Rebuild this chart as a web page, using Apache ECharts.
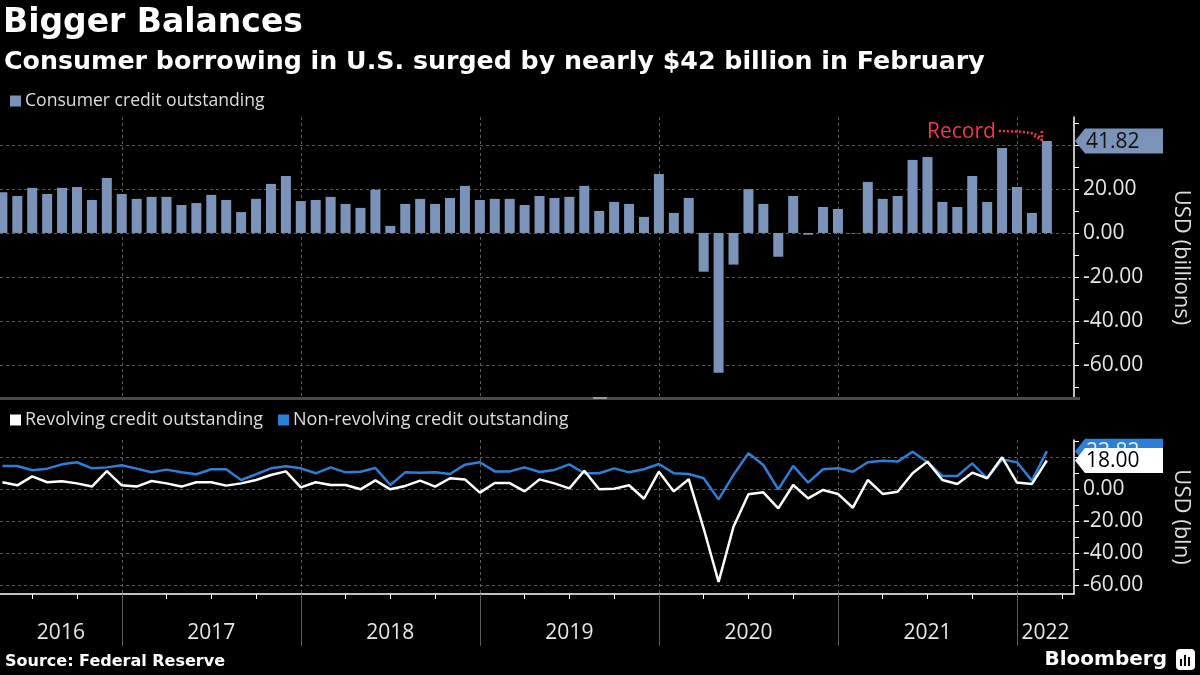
<!DOCTYPE html>
<html><head><meta charset="utf-8">
<script src="https://cdn.jsdelivr.net/npm/echarts@6/dist/echarts.min.js"></script>
<style>html,body{margin:0;padding:0;background:#000}#c{width:1200px;height:675px}</style>
</head><body><div id="c"></div>
<script>
// ---------------- DATA ----------------
const months = [
 '2016-04','2016-05','2016-06','2016-07','2016-08','2016-09','2016-10','2016-11','2016-12',
 '2017-01','2017-02','2017-03','2017-04','2017-05','2017-06','2017-07','2017-08','2017-09','2017-10','2017-11','2017-12',
 '2018-01','2018-02','2018-03','2018-04','2018-05','2018-06','2018-07','2018-08','2018-09','2018-10','2018-11','2018-12',
 '2019-01','2019-02','2019-03','2019-04','2019-05','2019-06','2019-07','2019-08','2019-09','2019-10','2019-11','2019-12',
 '2020-01','2020-02','2020-03','2020-04','2020-05','2020-06','2020-07','2020-08','2020-09','2020-10','2020-11','2020-12',
 '2021-01','2021-02','2021-03','2021-04','2021-05','2021-06','2021-07','2021-08','2021-09','2021-10','2021-11','2021-12',
 '2022-01','2022-02'
];
// Consumer credit outstanding, monthly change (USD bn)
const consumerCredit = [
 18.5, 16.8, 20.5, 17.7, 20.5, 20.9, 15.0, 25.0, 17.7, 15.5,
 16.4, 16.4, 12.7, 13.6, 17.3, 15.0, 9.5, 15.5, 22.3, 25.9,
 14.5, 15.0, 16.4, 13.2, 11.4, 19.7, 3.2, 13.2, 15.5, 13.2,
 15.9, 21.4, 15.0, 15.5, 15.5, 12.7, 16.8, 15.9, 16.4, 21.4,
 10.0, 14.1, 13.2, 7.3, 26.8, 9.1, 15.9, -17.6, -63.5, -14.4,
 19.9, 13.2, -10.8, 16.8, -0.8, 11.8, 10.9, -0.2, 23.2, 15.5,
 16.8, 33.2, 34.5, 14.1, 11.8, 25.9, 14.1, 38.6, 20.9, 9.1,
 41.82
];
const revolving = [
 4.4, 2.5, 8.1, 4.4, 5.0, 3.7, 1.7, 11.4, 2.5, 1.7,
 5.2, 3.7, 1.7, 4.4, 4.4, 2.3, 3.7, 5.8, 8.9, 11.2,
 1.2, 4.4, 2.7, 2.7, 0.0, 5.6, 0.0, 2.1, 5.4, 1.7,
 6.9, 6.2, -2.1, 3.9, 3.9, -1.3, 6.2, 3.7, 0.6, 11.6,
 0.0, 0.4, 2.5, -5.9, 11.0, -1.3, 6.3, -24.5, -57.8, -23.4,
 -3.1, -1.9, -11.9, 2.7, -5.7, -0.4, -2.9, -11.5, 5.8, -2.9,
 -1.5, 10.0, 17.3, 5.8, 3.3, 10.4, 6.9, 20.0, 4.2, 3.3,
 18.00
];
const nonRevolving = [
 14.6, 14.6, 11.9, 12.9, 15.6, 16.9, 13.1, 13.7, 15.0, 12.9,
 10.6, 12.3, 10.6, 9.4, 12.5, 12.5, 5.8, 9.4, 13.1, 14.4,
 13.1, 10.0, 13.7, 10.6, 11.0, 13.3, 2.7, 10.6, 10.4, 10.6,
 9.6, 15.4, 16.9, 11.2, 11.2, 13.7, 10.8, 12.1, 15.6, 10.0,
 10.0, 13.1, 10.6, 12.5, 15.8, 10.0, 9.6, 6.9, -6.3, 9.0,
 22.5, 15.2, 0.0, 14.6, 4.2, 12.5, 13.1, 11.0, 16.9, 17.9,
 17.3, 23.5, 16.9, 8.3, 8.3, 16.2, 6.9, 18.7, 16.9, 5.4,
 23.82
];
const yearLabels = ['2016','2017','2018','2019','2020','2021','2022'];
const topYLabelValues = [20, 0, -20, -40, -60];
const topYGridValues = [40, 20, 0, -20, -40, -60];
const topYTickValues = [50, 40, 30, 20, 10, 0, -10, -20, -30, -40, -50, -60, -70];
const botYLabelValues = [0, -20, -40, -60];
const botYGridValues = [20, 0, -20, -40, -60];
const botYTickValues = [30, 20, 10, 0, -10, -20, -30, -40, -50, -60];

// ---------------- LAYOUT ----------------
const X_MIN = -0.16, X_MAX = 71.82;
const FONT = '"Open Sans", "Noto Sans", sans-serif';
const BOLD = '"DejaVu Sans", sans-serif';
const BAR_COLOR = '#7b93b8';
const BLUE = '#2b7fd8';
const GRID_LINE = { color: '#5c5c5c', width: 1, type: [3, 3] };

const monthNum = i => ((4 - 1 + i) % 12) + 1; // months[0] is April
const yearEnds = months.map((m, i) => m.endsWith('-12') ? i : -1).filter(i => i >= 0);
const quarterTicks = [];
for (let i = 0; i <= Math.floor(X_MAX); i++) if (monthNum(i) % 3 === 0) quarterTicks.push(i);
const bounds = [X_MIN, ...yearEnds, X_MAX];
const yearLabelPos = yearLabels.map((y, i) => (bounds[i] + bounds[i + 1]) / 2);
const yearFormatter = v => {
  const j = yearLabelPos.findIndex(p => Math.abs(p - v) < 1e-6);
  return j >= 0 ? yearLabels[j] : '';
};
const fmt2 = v => Number(v).toFixed(2);

function tagRenderer(fill, textColor) {
  return function (params, api) {
    const p = api.coord([api.value(0), api.value(1)]);
    const x = p[0] + 1, y = p[1], w = 88, h = 25, n = 10;
    return {
      type: 'group',
      children: [
        { type: 'polygon', shape: { points: [[x, y], [x + n, y - h / 2], [x + w, y - h / 2], [x + w, y + h / 2], [x + n, y + h / 2]] }, style: { fill: fill } },
        { type: 'text', style: { text: fmt2(api.value(1)), x: x + 11, y: y + 1, verticalAlign: 'middle', fill: textColor, font: '21px ' + FONT } }
      ]
    };
  };
}

const chart = echarts.init(document.getElementById('c'), null, { renderer: 'canvas' });
const last = consumerCredit.length - 1;
const noZeroLine = (extra) => Object.assign({ onZero: false }, extra);

chart.setOption({
  backgroundColor: '#000',
  animation: false,
  textStyle: { fontFamily: FONT },
  title: [
    { text: 'Bigger Balances', left: 3, top: 7, padding: 0, textStyle: { color: '#fff', fontSize: 33, fontWeight: 'bold', fontFamily: BOLD } },
    { text: 'Consumer borrowing in U.S. surged by nearly $42 billion in February', left: 4, top: 50, padding: 0, textStyle: { color: '#fff', fontSize: 25.3, fontWeight: 'bold', fontFamily: BOLD } }
  ],
  legend: [
    { data: ['Consumer credit outstanding'], left: 10, top: 92, padding: 0, icon: 'rect', itemWidth: 11, itemHeight: 11, selectedMode: false,
      textStyle: { color: '#ddd', fontSize: 17.6, fontFamily: FONT, padding: [0, 0, 0, -1] } },
    { data: ['Revolving credit outstanding', 'Non-revolving credit outstanding'], left: 10, top: 411, padding: 0, icon: 'rect', itemWidth: 11, itemHeight: 11, itemGap: 15, selectedMode: false,
      textStyle: { color: '#ddd', fontSize: 18, fontFamily: FONT, padding: [0, 0, 0, -1] } }
  ],
  grid: [
    { left: 0, right: 121, top: 117, height: 281 },
    { left: 0, right: 121, top: 440, height: 154 }
  ],
  xAxis: [
    { type: 'value', gridIndex: 0, min: X_MIN, max: X_MAX, axisLine: noZeroLine({ show: false }),
      axisTick: { show: false, customValues: yearEnds }, axisLabel: { show: false },
      splitLine: { show: true, lineStyle: GRID_LINE } },
    { type: 'value', gridIndex: 1, position: 'bottom', min: X_MIN, max: X_MAX,
      axisLine: noZeroLine({ show: true, lineStyle: { color: '#fff', width: 1.5 } }),
      axisTick: { show: true, customValues: quarterTicks, length: 5, lineStyle: { color: '#fff', width: 1 } },
      axisLabel: { show: true, customValues: yearLabelPos, formatter: yearFormatter, margin: 29, color: '#e6e6e6', fontSize: 21, fontFamily: FONT },
      splitLine: { show: false } },
    { type: 'value', gridIndex: 1, position: 'bottom', min: X_MIN, max: X_MAX, axisLine: noZeroLine({ show: false }),
      axisTick: { show: true, customValues: yearEnds, length: 52, lineStyle: { color: '#5c5c5c', width: 1 } },
      axisLabel: { show: false }, splitLine: { show: true, lineStyle: GRID_LINE } }
  ],
  yAxis: [
    { type: 'value', gridIndex: 0, position: 'right', min: -75, max: 52.7,
      axisLine: noZeroLine({ show: true, lineStyle: { color: '#fff', width: 1.5 } }),
      axisTick: { show: true, customValues: topYTickValues, length: 5, lineStyle: { color: '#fff' } },
      axisLabel: { show: true, customValues: topYLabelValues, formatter: fmt2, margin: 9, color: '#e6e6e6', fontSize: 21, fontFamily: FONT },
      splitLine: { show: false },
      name: 'USD (billions)', nameLocation: 'middle', nameRotate: -90, nameGap: 96,
      nameTextStyle: { color: '#ddd', fontSize: 22, fontFamily: FONT } },
    { type: 'value', gridIndex: 0, position: 'right', min: -75, max: 52.7, axisLine: noZeroLine({ show: false }),
      axisTick: { show: false, customValues: topYGridValues }, axisLabel: { show: false },
      splitLine: { show: true, lineStyle: GRID_LINE } },
    { type: 'value', gridIndex: 1, position: 'right', min: -65.4, max: 30.8,
      axisLine: noZeroLine({ show: true, lineStyle: { color: '#fff', width: 1.5 } }),
      axisTick: { show: true, customValues: botYTickValues, length: 5, lineStyle: { color: '#fff' } },
      axisLabel: { show: true, customValues: botYLabelValues, formatter: fmt2, margin: 9, color: '#e6e6e6', fontSize: 21, fontFamily: FONT },
      splitLine: { show: false },
      name: 'USD (bln)', nameLocation: 'middle', nameRotate: -90, nameGap: 96,
      nameTextStyle: { color: '#ddd', fontSize: 22, fontFamily: FONT } },
    { type: 'value', gridIndex: 1, position: 'right', min: -65.4, max: 30.8, axisLine: noZeroLine({ show: false }),
      axisTick: { show: false, customValues: botYGridValues }, axisLabel: { show: false },
      splitLine: { show: true, lineStyle: GRID_LINE } }
  ],
  series: [
    { name: 'Consumer credit outstanding', type: 'bar', xAxisIndex: 0, yAxisIndex: 0, barWidth: 10,
      itemStyle: { color: BAR_COLOR }, data: consumerCredit.map((v, i) => [i, v]) },
    { name: 'Non-revolving credit outstanding', type: 'line', xAxisIndex: 1, yAxisIndex: 2, symbol: 'none', z: 2,
      lineStyle: { color: BLUE, width: 2.5 }, itemStyle: { color: BLUE }, data: nonRevolving.map((v, i) => [i, v]) },
    { name: 'Revolving credit outstanding', type: 'line', xAxisIndex: 1, yAxisIndex: 2, symbol: 'none', z: 3,
      lineStyle: { color: '#fff', width: 2.5 }, itemStyle: { color: '#fff' }, data: revolving.map((v, i) => [i, v]) },
    { type: 'custom', xAxisIndex: 0, yAxisIndex: 0, clip: false, z: 5, renderItem: tagRenderer(BAR_COLOR, '#111'),
      data: [[X_MAX, consumerCredit[last]]] },
    { type: 'custom', xAxisIndex: 1, yAxisIndex: 2, clip: false, z: 5, renderItem: tagRenderer(BLUE, '#e8f0ff'),
      data: [[X_MAX, nonRevolving[last]]] },
    { type: 'custom', xAxisIndex: 1, yAxisIndex: 2, clip: false, z: 6, renderItem: tagRenderer('#fff', '#000'),
      data: [[X_MAX, revolving[last]]] }
  ]
});

// annotations anchored to the record bar
const a = chart.convertToPixel({ xAxisIndex: 0, yAxisIndex: 0 }, [last, consumerCredit[last]]);
const RED = '#f2344e';
chart.setOption({
  graphic: [
    { type: 'rect', shape: { x: 0, y: 397, width: 1080, height: 3 }, style: { fill: '#4a4a4a' }, z: 10 },
    { type: 'rect', shape: { x: 593, y: 397, width: 14, height: 2 }, style: { fill: '#9a9a9a' }, z: 11 },
    { type: 'text', style: { text: 'Record', x: a[0] - 51, y: a[1] - 9, align: 'right', verticalAlign: 'middle', fill: RED, font: '21px ' + FONT }, z: 12 },
    { type: 'bezierCurve', shape: { x1: a[0] - 48, y1: a[1] - 10, cpx1: a[0] - 25, cpy1: a[1] - 9, cpx2: a[0] - 10, cpy2: a[1] - 10, x2: a[0] - 5, y2: a[1] - 1 },
      style: { stroke: RED, lineWidth: 2.5, lineDash: [2, 2], fill: null }, z: 12 },
    { type: 'polyline', shape: { points: [[a[0] - 13, a[1] - 5], [a[0] - 5, a[1] - 1], [a[0] - 5, a[1] - 10]] },
      style: { stroke: RED, lineWidth: 2.5, lineDash: [2, 2], fill: null }, z: 12 },
    { type: 'text', style: { text: 'Source: Federal Reserve', x: 5, y: 662, verticalAlign: 'middle', fill: '#fff', font: 'bold 16px ' + BOLD }, z: 12 },
    { type: 'text', style: { text: 'Bloomberg', x: 1167, y: 660, align: 'right', verticalAlign: 'middle', fill: '#fff', font: 'bold 20px ' + BOLD }, z: 12 },
    { type: 'rect', shape: { x: 1176, y: 649, width: 19, height: 21, r: 4 }, style: { fill: '#fff' }, z: 12 },
    { type: 'rect', shape: { x: 1180, y: 659, width: 2, height: 7 }, style: { fill: '#000' }, z: 13 },
    { type: 'rect', shape: { x: 1184, y: 655, width: 2, height: 11 }, style: { fill: '#000' }, z: 13 },
    { type: 'rect', shape: { x: 1188, y: 657, width: 2, height: 9 }, style: { fill: '#000' }, z: 13 }
  ]
});
</script></body></html>
